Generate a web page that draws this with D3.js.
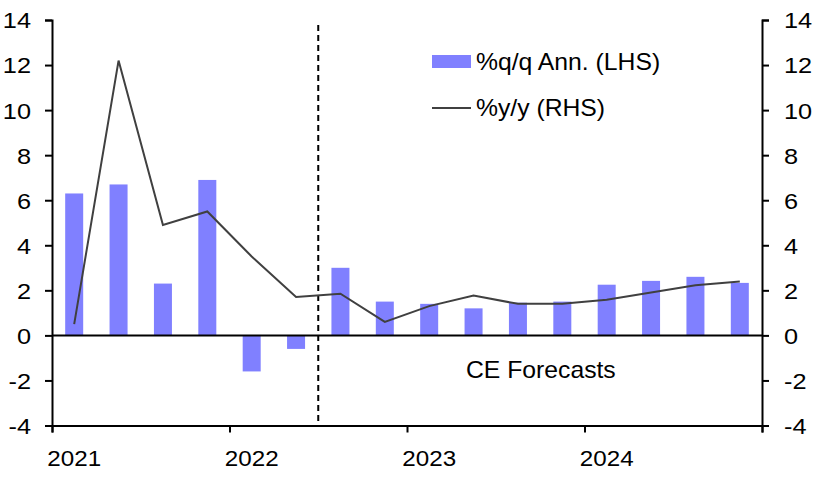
<!DOCTYPE html>
<html>
<head>
<meta charset="utf-8">
<script src="https://cdn.jsdelivr.net/npm/d3@7"></script>
<style>
  body { margin: 0; background: #fff; }
  text { font-family: "Liberation Sans", Arial, sans-serif; }
</style>
</head>
<body>
<script>
// quarters 2021Q1 .. 2024Q4
var quarters = ["2021Q1","2021Q2","2021Q3","2021Q4","2022Q1","2022Q2","2022Q3","2022Q4",
                "2023Q1","2023Q2","2023Q3","2023Q4","2024Q1","2024Q2","2024Q3","2024Q4"];
var qoqAnn = [6.3, 6.7, 2.3, 6.9, -1.6, -0.6, 3.0, 1.5, 1.4, 1.2, 1.45, 1.5, 2.25, 2.42, 2.6, 2.33];
var yoy = [0.5, 12.2, 4.9, 5.5, 3.5, 1.7, 1.85, 0.6, 1.3, 1.77, 1.4, 1.4, 1.58, 1.9, 2.23, 2.39];
var yearLabels = ["2021", "2022", "2023", "2024"];
var yTicks = [-4, -2, 0, 2, 4, 6, 8, 10, 12, 14];
var forecastStart = 6; // index of first forecast quarter

var width = 816, height = 481;
var margin = {left: 52, right: 54, top: 20, bottom: 55};

var svg = d3.select("body")
    .append("svg")
    .attr("width", width)
    .attr("height", height);

var x = d3.scaleBand()
    .domain(quarters)
    .range([margin.left, width - margin.right]);

var step = x.step();
var barW = 18;

var yL = d3.scaleLinear().domain([-4, 14]).range([height - margin.bottom - 0.5, margin.top]);
var yR = d3.scaleLinear().domain([-4, 14]).range([height - margin.bottom - 0.5, margin.top]);

// bars
svg.selectAll(".bar")
    .data(qoqAnn)
    .enter()
    .append("rect")
    .attr("class", "bar")
    .attr("x", function(d, i) { return x(quarters[i]) + step / 2 - barW / 2; })
    .attr("width", barW)
    .attr("y", function(d) { return yL(Math.max(0, d)); })
    .attr("height", function(d) { return Math.abs(yL(d) - yL(0)); })
    .attr("fill", "#8080ff");

// zero line
svg.append("line")
    .attr("x1", margin.left).attr("x2", width - margin.right)
    .attr("y1", yL(0)).attr("y2", yL(0))
    .attr("stroke", "#000").attr("stroke-width", 2);

// forecast divider
var xf = x(quarters[forecastStart]);
svg.append("line")
    .attr("x1", xf).attr("x2", xf)
    .attr("y1", 25).attr("y2", yL(-4))
    .attr("stroke", "#000").attr("stroke-width", 2)
    .attr("stroke-dasharray", "6,4");

// y/y line
var line = d3.line()
    .x(function(d, i) { return x(quarters[i]) + step / 2; })
    .y(function(d) { return yR(d); });

svg.append("path")
    .datum(yoy)
    .attr("d", line)
    .attr("fill", "none")
    .attr("stroke", "#404040")
    .attr("stroke-width", 2);

var fmt = function(d) { return String(d); };  // plain hyphen minus

// left axis
var leftAxis = svg.append("g")
    .attr("transform", "translate(" + margin.left + ",0)")
    .call(d3.axisLeft(yL).tickValues(yTicks).tickSize(7).tickFormat(fmt));

// right axis
var rightAxis = svg.append("g")
    .attr("transform", "translate(" + (width - margin.right) + ",0)")
    .call(d3.axisRight(yR).tickValues(yTicks).tickSize(7).tickFormat(fmt));

// bottom axis: ticks at year boundaries, labels under first quarter
var xYears = d3.scaleLinear().domain([0, 4]).range([margin.left, width - margin.right]);
var bottomAxis = svg.append("g")
    .attr("transform", "translate(0," + yL(-4) + ")")
    .call(d3.axisBottom(xYears).tickValues([0, 1, 2, 3, 4]).tickSize(7).tickFormat(""));

[leftAxis, rightAxis, bottomAxis].forEach(function(g) {
    g.select(".domain").attr("stroke", "#000").attr("stroke-width", 2);
    g.selectAll(".tick line").attr("stroke", "#000").attr("stroke-width", 2);
    g.selectAll("text").attr("font-size", 22).attr("fill", "#000")
        .attr("font-family", "Liberation Sans, Arial, sans-serif");
});
leftAxis.selectAll(".tick text").attr("x", -21).attr("dy", "0.36em");
rightAxis.selectAll(".tick text").attr("x", 22).attr("dy", "0.36em");

var years = svg.selectAll(".yearLabel")
    .data(yearLabels)
    .enter()
    .append("text")
    .attr("x", function(d, i) { return x(quarters[i * 4]) + step / 2; })
    .attr("y", 466)
    .attr("text-anchor", "middle")
    .attr("font-size", 22)
    .text(function(d) { return d; });

// legend
svg.append("rect")
    .attr("x", 432).attr("y", 55)
    .attr("width", 39).attr("height", 13)
    .attr("fill", "#8080ff");
var leg1 = svg.append("text")
    .attr("x", 476).attr("y", 70)
    .attr("font-size", 24)
    .text("%q/q Ann. (LHS)");
svg.append("line")
    .attr("x1", 432).attr("x2", 471)
    .attr("y1", 108).attr("y2", 108)
    .attr("stroke", "#404040").attr("stroke-width", 2);
var leg2 = svg.append("text")
    .attr("x", 476).attr("y", 116)
    .attr("font-size", 24)
    .text("%y/y (RHS)");

var ce = svg.append("text")
    .attr("x", 466).attr("y", 378)
    .attr("font-size", 24)
    .text("CE Forecasts");

// the original text is drawn a little wide
function stretch(sel, k) {
    sel.each(function() {
        var w = this.getComputedTextLength();
        d3.select(this).attr("textLength", w * k).attr("lengthAdjust", "spacingAndGlyphs");
    });
}
stretch(leftAxis.selectAll(".tick text"), 1.15);
stretch(rightAxis.selectAll(".tick text"), 1.15);
stretch(years, 1.1);
stretch(leg1, 1.03);
stretch(leg2, 1.03);
stretch(ce, 1.03);
</script>
</body>
</html>
